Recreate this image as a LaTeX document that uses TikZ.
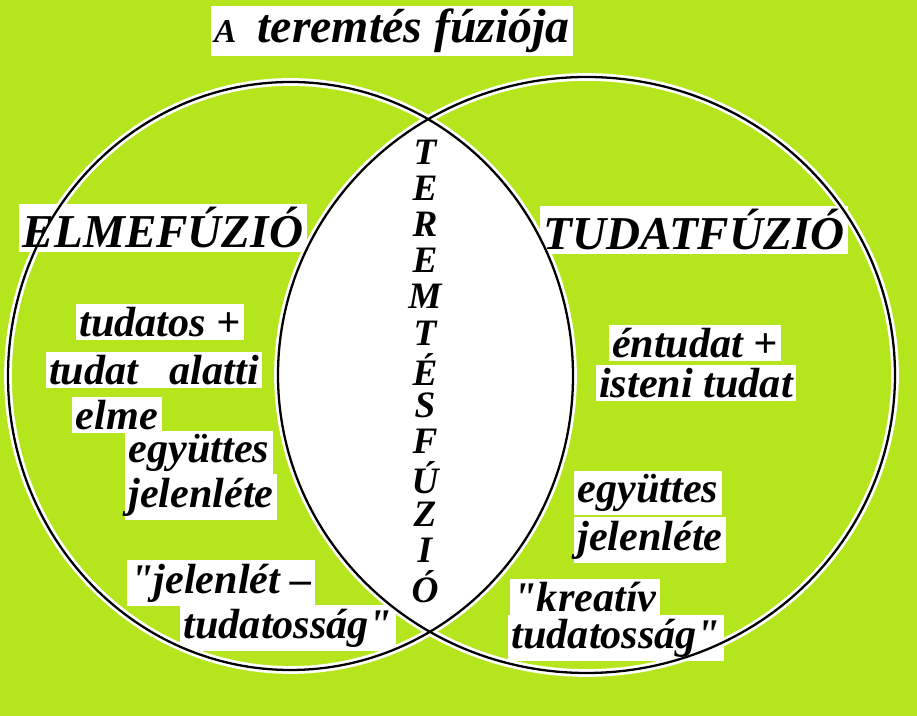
\documentclass[tikz,border=0pt]{standalone}
\usepackage{fontspec}
\setmainfont{Liberation Serif}[Ligatures=TeXOff]
\definecolor{lime}{HTML}{B5E61D}

\begin{document}
\begin{tikzpicture}[
  x=0.01cm,
  y=-0.01cm,
  word/.style={
    fill=white,
    inner sep=1pt,
    text=black,
    font=\fontsize{12}{14}\selectfont\bfseries\itshape
  },
  heading/.style={
    word,
    font=\fontsize{13.4}{15}\selectfont\bfseries\itshape
  },
  letter/.style={
    inner sep=0pt,
    font=\fontsize{10.6}{12}\selectfont\bfseries\itshape
  },
  ring/.style={black,line width=.65pt},
  halo/.style={white,line width=2.2pt}
]

\fill[lime] (0,0) rectangle (917,716);

% the overlap of the two fusions
\begin{scope}
  \clip (290.5,376) ellipse [x radius=282.5,y radius=294];
  \fill[white] (586.5,375) ellipse [x radius=308.5,y radius=298];
\end{scope}

\draw[halo] (290.5,376) ellipse [x radius=282.5,y radius=294];
\draw[halo] (586.5,375) ellipse [x radius=308.5,y radius=298];

\node[word,font=\fontsize{13.6}{15}\selectfont\bfseries\itshape]
  (title) at (392,31)
  {{\fontsize{9.5}{10}\selectfont A}\hspace{6pt}teremtés fúziója};

\node[heading] (elme) at (163,228) {ELMEFÚZIÓ};
\node[heading] (tudat) at (694,230) {TUDATFÚZIÓ};

\node[word] (l1) at (160,322) {tudatos +};
\node[word] (l2) at (154,370) {tudat\hspace{9pt}alatti};
\node[word] (l3) at (117,415) {elme};
\node[word] (l4) at (199,453) {együttes};
\node[word] (l5) at (201,497) {jelenléte};
\node[word] (l6) at (221,583) {"jelenlét –};
\node[word] (l7) at (288,628) {tudatosság"};

\node[word] (r1) at (695,343) {éntudat +};
\node[word] (r2) at (696,383) {isteni tudat};
\node[word] (r3) at (648,493) {együttes};
\node[word] (r4) at (650,540) {jelenléte};
\node[word] (r5) at (585,597) {"kreatív};
\node[word] (r6) at (616,638) {tudatosság"};

\foreach \c [count=\i] in {T,E,R,E,M,T,É,S,F,Ú,Z,I,Ó} {
  \node[letter] (v\i) at (425,{152+36.2*(\i-1)}) {\c};
}

\draw[ring] (290.5,376) ellipse [x radius=282.5,y radius=294];
\draw[ring] (586.5,375) ellipse [x radius=308.5,y radius=298];

\end{tikzpicture}
\end{document}
